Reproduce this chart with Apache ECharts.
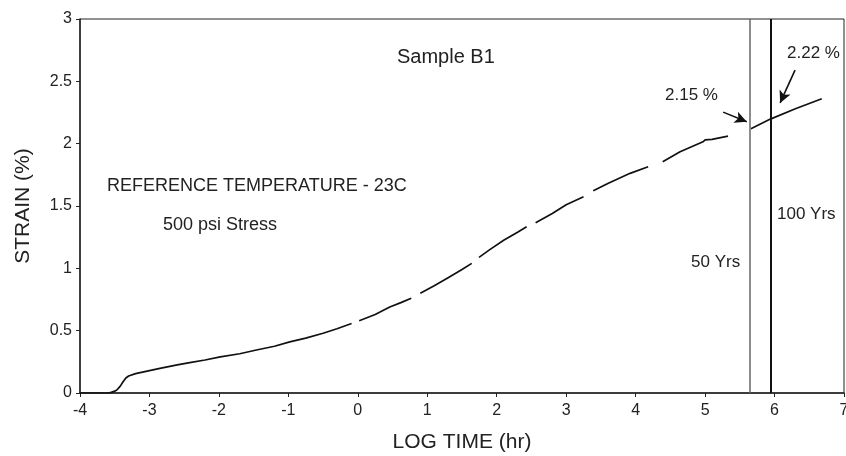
<!DOCTYPE html>
<html><head><meta charset="utf-8">
<script src="https://cdn.jsdelivr.net/npm/echarts@6/dist/echarts.min.js"></script>
<style>html,body{margin:0;padding:0;background:#fff}#c{width:846px;height:456px}</style>
</head><body><div id="c"></div>
<script>
// log time (hr) values; null strain = gap in the recorded curve
const logTime = [-4,-3.6,-3.55,-3.5,-3.47,-3.42,-3.38,-3.34,-3.30,-3.2,-3.0,-2.85,-2.6,-2.42,-2.2,-1.98,-1.7,-1.46,-1.2,-0.98,-0.75,-0.5,-0.3,-0.09,-0.05,
  0.02,0.25,0.46,0.62,0.77,0.83,
  0.90,1.1,1.3,1.5,1.64,1.70,
  1.745,1.9,2.1,2.3,2.43,2.50,
  2.56,2.8,3.0,3.25,3.32,
  3.39,3.6,3.92,4.18,4.28,
  4.39,4.64,4.97,5.0,5.02,5.1,5.33,5.5,
  5.66,5.94,6.3,6.68];
const strain = [0,0,0.005,0.015,0.024,0.055,0.09,0.12,0.136,0.155,0.18,0.198,0.225,0.243,0.265,0.29,0.315,0.345,0.375,0.41,0.44,0.479,0.515,0.557,null,
  0.58,0.63,0.69,0.725,0.76,null,
  0.80,0.86,0.925,0.99,1.04,null,
  1.088,1.15,1.225,1.29,1.334,null,
  1.366,1.44,1.51,1.574,null,
  1.622,1.68,1.762,1.815,null,
  1.855,1.935,2.015,2.03,2.04,2.035,2.06,null,
  2.12,2.197,2.28,2.36];
const xTicks = [-4,7,1];
const yTicks = [0,3,0.5];
const yearLines = [{name:'50 Yrs', logT:5.64}, {name:'100 Yrs', logT:5.94}];
const arrows = [
  {label:'2.15 %', from:[5.26,2.253], to:[5.60,2.176]},
  {label:'2.22 %', from:[6.295,2.59], to:[6.08,2.327]}
];

const FONT = 'Liberation Sans, Arial, sans-serif';
const TXT = '#222';
const chart = echarts.init(document.getElementById('c'), null, {renderer:'canvas'});
const data = logTime.map((x,i)=>[x, strain[i]===null ? '-' : strain[i]]);

chart.setOption({
  animation:false,
  grid:{left:80, top:19, right:2, bottom:63, show:true, borderColor:'#222', borderWidth:1, outerBoundsMode:'none', containLabel:false},
  xAxis:{type:'value', min:xTicks[0], max:xTicks[1], interval:xTicks[2],
    name:'LOG TIME (hr)', nameLocation:'middle', nameGap:39,
    nameTextStyle:{fontFamily:FONT, fontSize:21, color:TXT},
    axisLine:{onZero:false, lineStyle:{color:'#222', width:1.5}},
    axisTick:{show:true, length:4, inside:false, lineStyle:{color:'#222'}},
    axisLabel:{fontFamily:FONT, fontSize:16, color:TXT, margin:10, showMaxLabel:true},
    splitLine:{show:false}},
  yAxis:{type:'value', min:yTicks[0], max:yTicks[1], interval:yTicks[2],
    name:'STRAIN (%)', nameLocation:'middle', nameGap:46, nameRotate:90,
    nameTextStyle:{fontFamily:FONT, fontSize:21, color:TXT},
    axisLine:{show:true, onZero:false, lineStyle:{color:'#222', width:1.5}},
    axisTick:{show:true, length:4, lineStyle:{color:'#222'}},
    axisLabel:{fontFamily:FONT, fontSize:16, color:TXT, margin:8},
    splitLine:{show:false}},
  series:[
    {type:'line', data:data, showSymbol:false, connectNulls:false,
     lineStyle:{color:'#111', width:1.7},
     markLine:{silent:true, symbol:'none', label:{show:false},
       data:[
         {xAxis:yearLines[0].logT, lineStyle:{color:'#666', width:1.5, type:'solid'}},
         {xAxis:yearLines[1].logT, lineStyle:{color:'#111', width:2, type:'solid'}}
       ]}},
    {type:'line', data:[], markLine:{silent:true, symbol:['none','arrow'], symbolSize:[9,12], label:{show:false},
       lineStyle:{color:'#111', width:1.6, type:'solid'},
       data: arrows.map(a=>[{coord:a.from},{coord:a.to}])}}
  ],
  graphic:[
    {type:'text', left:397, top:47, style:{text:'Sample B1', font:'20px '+FONT, fill:TXT}},
    {type:'text', left:107, top:177, style:{text:'REFERENCE TEMPERATURE - 23C', font:'18px '+FONT, fill:TXT}},
    {type:'text', left:163, top:216, style:{text:'500 psi Stress', font:'18px '+FONT, fill:TXT}},
    {type:'text', left:691, top:254, style:{text:yearLines[0].name, font:'17px '+FONT, fill:TXT}},
    {type:'text', left:777, top:206, style:{text:yearLines[1].name, font:'17px '+FONT, fill:TXT}},
    {type:'text', left:665, top:87, style:{text:arrows[0].label, font:'17px '+FONT, fill:TXT}},
    {type:'text', left:787, top:45, style:{text:arrows[1].label, font:'17px '+FONT, fill:TXT}}
  ]
});
</script></body></html>
